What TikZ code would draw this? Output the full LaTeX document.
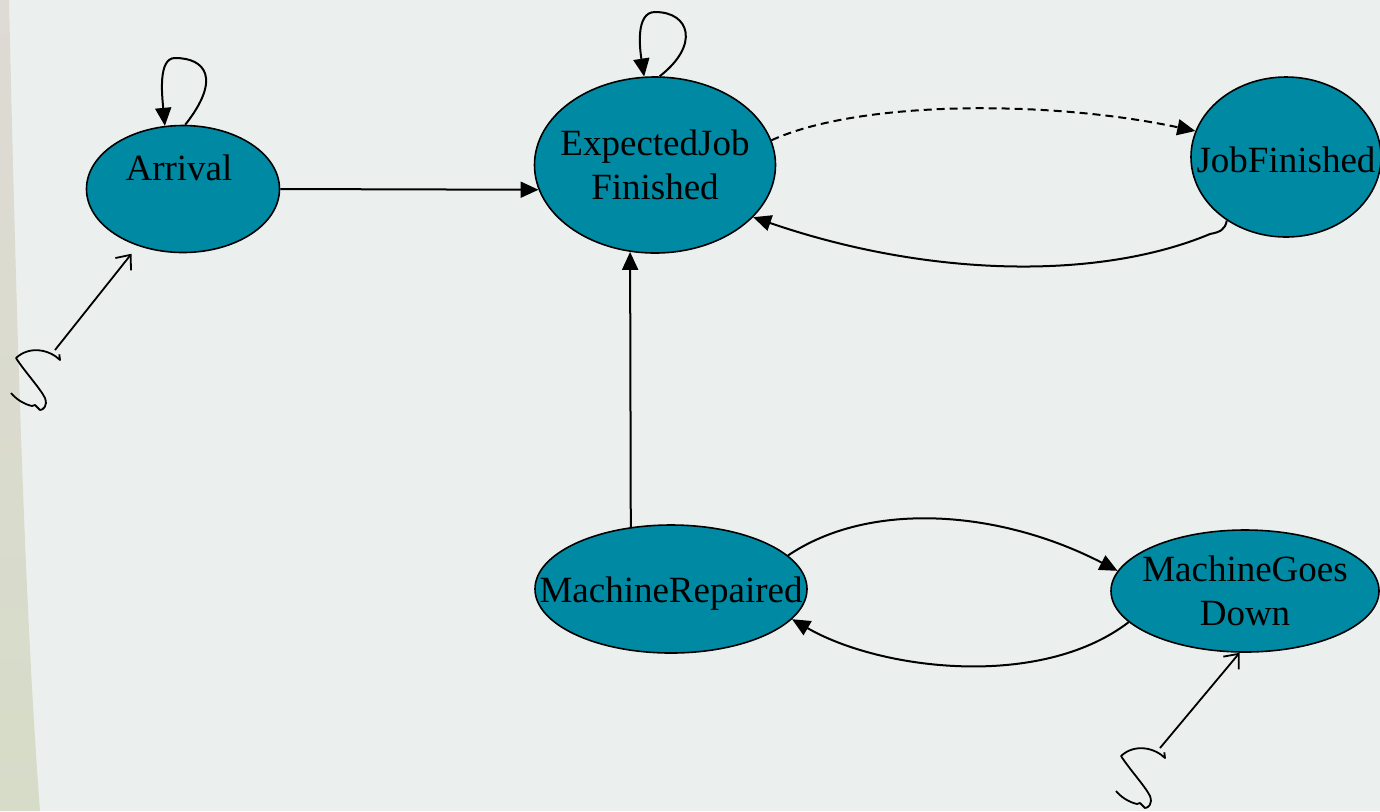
\documentclass[tikz,border=0pt]{standalone}
\usepackage{fontspec}
\setmainfont{Liberation Serif}
\usetikzlibrary{shapes.geometric, arrows.meta}

\definecolor{bgcolor}{RGB}{235,240,238}
\definecolor{statefill}{RGB}{0,137,163}
\definecolor{stripgray}{RGB}{222,218,212}
\definecolor{stripyellow}{RGB}{236,234,200}
\definecolor{stripgreen}{RGB}{214,220,200}

\tikzset{
  state/.style={ellipse, draw=black, fill=statefill, line width=0.8pt, inner sep=0pt},
  statetext/.style={font=\fontsize{18.5}{22}\selectfont, align=center, inner sep=0pt},
  trans/.style={-{Triangle[length=9pt,width=8pt]}, line width=1pt},
  srcarrow/.style={-{Straight Barb[length=6pt,width=10pt]}, line width=0.9pt},
  source/.pic={
    \draw[line width=0.9pt, line join=round]
      (4.3,4.3) -- (5,10)
      .. controls (-5,0) and (-25,-5) .. (-39,8)
      .. controls (-30,22) and (-15,38) .. (-10,48)
      .. controls (-7,56) and (-12,60) .. (-15,60)
      -- (-20,55) -- (-23,56)
      .. controls (-32,54) and (-40,48) .. (-44,43);
  }
}

\begin{document}
\begin{tikzpicture}[x=0.5pt, y=-0.5pt]

\useasboundingbox (0,0) rectangle (1380,811);

% Background
\fill[bgcolor] (0,0) rectangle (1380,811);
\shade[top color=stripgray, middle color=stripyellow, bottom color=stripgreen]
    (0,0) -- (9,0) .. controls (16,300) and (24,600) .. (40,811) -- (0,811) -- cycle;

% States
\node[state, minimum width=96.5pt, minimum height=63.5pt,
      label={[statetext, xshift=-2pt, yshift=10.5pt]center:Arrival}] (arrival) at (183,189) {};
\node[state, minimum width=120.5pt, minimum height=88pt,
      label={[statetext]center:{ExpectedJob\\Finished}}] (expected) at (655,165) {};
\node[state, minimum width=95pt, minimum height=80pt,
      label={[statetext, yshift=-1.5pt]center:JobFinished}] (jobfin) at (1286,157) {};
\node[state, minimum width=136pt, minimum height=64pt,
      label={[statetext, yshift=-2.5pt]center:MachineRepaired}] (repaired) at (671,589) {};
\node[state, minimum width=134pt, minimum height=61pt,
      label={[statetext]center:{MachineGoes\\Down}}] (down) at (1245,591) {};

% Self loops
\draw[trans] (arrival.88) .. controls (222,78) and (205,58) .. (175,58)
    .. controls (158,58) and (162,95) .. (arrival.106);
\draw[trans] (expected.87) .. controls (700,45) and (690,12) .. (655,12)
    .. controls (635,12) and (640,50) .. (expected.97);

% Transitions
\draw[trans] (arrival.east) -- (expected.192);
\draw[trans, dash pattern=on 4pt off 2.5pt]
    (expected.12) .. controls (860,100) and (1050,100) .. (jobfin.164);
\draw[trans] (jobfin.227) .. controls (1225,230) and (1220,232) .. (1210,234)
    .. controls (1100,280) and (930,278) .. (expected.-28);
\draw[trans] (repaired.123) -- (expected.254);
\draw[trans] (repaired.16) .. controls (870,500) and (1000,510) .. (down.171);
\draw[trans] (down.195) .. controls (1040,690) and (880,670) .. (repaired.-14);

% Sources
\coordinate (arrsrc) at (55,350);
\coordinate (downsrc) at (1160,748);
\pic at (arrsrc) {source};
\pic at (downsrc) {source};
\draw[srcarrow, shorten >=5pt] (arrsrc) -- (arrival);
\draw[srcarrow] (downsrc) -- (down.265);

\end{tikzpicture}
\end{document}
